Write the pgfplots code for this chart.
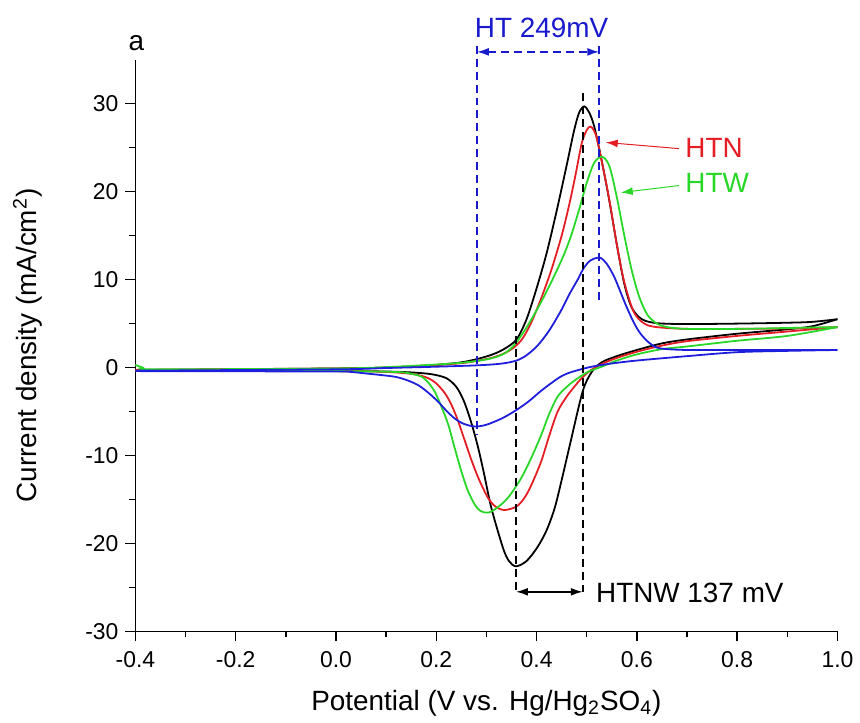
\documentclass[border=0pt]{standalone}
\usepackage{fontspec}
\setmainfont{Liberation Sans}
\usepackage{pgfplots}
\pgfplotsset{compat=1.18}
\usetikzlibrary{arrows.meta}
\definecolor{cvred}{RGB}{228,30,36}
\definecolor{cvgreen}{RGB}{40,215,40}
\definecolor{cvblue}{RGB}{30,30,220}
\definecolor{annblue}{RGB}{25,25,205}
\begin{document}
\begin{tikzpicture}
\begin{axis}[
  scale only axis, width=352.5pt, height=287pt,
  xmin=-0.4, xmax=1.0, ymin=-30, ymax=35,
  axis lines=left,
  axis line style={-, line width=0.8pt},
  xtick={-0.4,-0.2,0,0.2,0.4,0.6,0.8,1.0},
  ytick={-30,-20,-10,0,10,20,30},
  minor x tick num=1, minor y tick num=1,
  tick align=outside,
  major tick length=5pt, minor tick length=3pt,
  tick style={line width=0.7pt, black},
  x tick label style={/pgf/number format/.cd, fixed, fixed zerofill, precision=1, /tikz/.cd, yshift=-1.5pt},
  /pgf/number format/assume math mode=true,
  ticklabel style={font=\fontsize{11.5}{13}\selectfont},
  label style={font=\fontsize{14}{16}\selectfont},
  xlabel={Potential (V vs. Hg/Hg\textsubscript{2}SO\textsubscript{4})},
  ylabel={Current density (mA/cm\textsuperscript{2})},
  xlabel style={at={(axis description cs:0.5,-0.1254)}, anchor=center},
  ylabel style={at={(axis description cs:-0.1532,0.5)}, anchor=center},
  clip=false,
  every axis plot/.append style={line width=0.9pt, smooth, tension=0.5},
]
% black (HTNW): anodic scan, then return scan
\addplot[black] coordinates {
(-0.4,-0.3) (-0.2,-0.2) (0.0,-0.1) (0.1,0.0) (0.2,0.3) (0.25,0.6) (0.28,0.95)
(0.31,1.45) (0.335,2.1) (0.36,3.2) (0.38,5.5) (0.40,9.0) (0.42,13.0) (0.44,17.8)
(0.46,23.0) (0.475,27.0) (0.485,29.0) (0.495,29.7) (0.505,29.0) (0.515,27.4)
(0.53,23.5) (0.545,19.0) (0.56,14.0) (0.575,9.5) (0.59,6.8) (0.61,5.5) (0.64,5.05)
(0.7,4.95) (0.8,5.0) (0.9,5.1) (0.95,5.2) (1.0,5.5)
};
\addplot[black] coordinates {
(1.0,5.5) (0.95,4.7) (0.9,4.35) (0.8,3.85) (0.7,3.2) (0.65,2.75) (0.6,2.0) (0.56,1.3)
(0.53,0.6) (0.51,-0.5) (0.492,-2.7) (0.468,-8.4) (0.45,-12.8) (0.436,-16.0)
(0.42,-18.5) (0.402,-20.4) (0.38,-22.0) (0.359,-22.6) (0.345,-22.0) (0.333,-20.5)
(0.31,-16.0) (0.295,-12.0) (0.283,-9.0) (0.27,-6.3) (0.255,-3.8) (0.24,-2.2)
(0.22,-1.2) (0.19,-0.75) (0.15,-0.55) (0.1,-0.45) (0.0,-0.4) (-0.4,-0.4)
};
% red (HTN)
\addplot[cvred] coordinates {
(-0.4,-0.25) (0.0,-0.1) (0.1,0.0) (0.2,0.3) (0.25,0.5) (0.28,0.75) (0.31,1.1)
(0.335,1.6) (0.355,2.3) (0.372,3.3) (0.39,5.2) (0.41,8.0) (0.43,11.2) (0.45,15.0)
(0.465,18.5) (0.478,22.0) (0.49,25.5) (0.5,27.0) (0.508,27.4) (0.518,26.5)
(0.528,24.0) (0.545,19.1) (0.56,14.0) (0.575,9.7) (0.594,6.3) (0.615,5.0)
(0.64,4.6) (0.7,4.4) (0.8,4.4) (0.9,4.45) (1.0,4.6)
};
\addplot[cvred] coordinates {
(1.0,4.6) (0.9,4.1) (0.8,3.6) (0.7,3.0) (0.65,2.5) (0.6,1.8) (0.56,1.1) (0.53,0.4)
(0.508,-0.3) (0.49,-1.2) (0.475,-2.2) (0.46,-3.3) (0.442,-5.0) (0.425,-7.8)
(0.409,-10.7) (0.39,-13.3) (0.376,-14.8) (0.36,-15.8) (0.336,-16.2) (0.318,-15.8)
(0.303,-14.8) (0.285,-12.7) (0.27,-10.5) (0.255,-8.0) (0.243,-6.0) (0.23,-4.2)
(0.217,-2.9) (0.2,-1.8) (0.184,-1.2) (0.16,-0.8) (0.13,-0.6) (0.08,-0.45)
(0.0,-0.4) (-0.4,-0.4)
};
% green (HTW)
\addplot[cvgreen] coordinates {
(-0.4,0.3) (-0.385,0.0) (-0.36,-0.2) (0.0,-0.1) (0.1,0.05) (0.2,0.35) (0.25,0.55)
(0.28,0.75) (0.31,1.05) (0.336,1.6) (0.356,2.6) (0.376,4.2) (0.396,6.1) (0.416,8.2)
(0.435,10.4) (0.455,12.9) (0.47,15.2) (0.485,18.0) (0.5,21.0) (0.515,23.3)
(0.53,24.0) (0.54,23.5) (0.548,22.4) (0.561,19.1) (0.575,15.0) (0.59,11.0)
(0.605,8.0) (0.621,6.0) (0.64,5.0) (0.661,4.6) (0.7,4.4) (0.8,4.4) (0.9,4.5) (1.0,4.6)
};
\addplot[cvgreen] coordinates {
(1.0,4.6) (0.9,3.6) (0.8,3.05) (0.7,2.4) (0.65,2.1) (0.6,1.5) (0.56,0.8) (0.53,0.1)
(0.502,-0.5) (0.475,-1.5) (0.46,-2.2) (0.442,-3.3) (0.425,-5.3) (0.409,-7.7)
(0.39,-10.2) (0.369,-12.6) (0.343,-14.8) (0.32,-16.0) (0.303,-16.5) (0.288,-16.3)
(0.277,-15.6) (0.263,-14.0) (0.250,-11.8) (0.237,-9.2) (0.224,-6.5) (0.21,-4.4)
(0.197,-2.75) (0.184,-1.7) (0.171,-1.05) (0.15,-0.7) (0.12,-0.5) (0.0,-0.4)
(-0.4,-0.35)
};
% blue (HT)
\addplot[cvblue] coordinates {
(-0.4,-0.35) (0.0,-0.2) (0.1,-0.05) (0.2,0.1) (0.283,0.26) (0.33,0.45) (0.36,0.8)
(0.38,1.4) (0.402,2.5) (0.425,4.2) (0.449,6.5) (0.465,8.3) (0.482,10.0)
(0.495,11.4) (0.508,12.2) (0.526,12.5) (0.54,11.8) (0.555,10.3) (0.568,8.5)
(0.581,6.7) (0.595,5.0) (0.608,3.8) (0.625,2.8) (0.645,2.2) (0.7,2.0) (0.8,2.0)
(1.0,2.0)
};
\addplot[cvblue] coordinates {
(1.0,2.0) (0.9,1.9) (0.8,1.75) (0.7,1.3) (0.6,0.8) (0.548,0.45) (0.51,0.1) (0.482,-0.3)
(0.46,-0.7) (0.442,-1.25) (0.41,-2.6) (0.383,-3.9) (0.355,-5.0) (0.330,-5.8)
(0.30,-6.5) (0.277,-6.7) (0.255,-6.4) (0.237,-5.8) (0.22,-4.9) (0.204,-3.9)
(0.185,-2.9) (0.164,-2.0) (0.14,-1.4) (0.118,-1.05) (0.09,-0.85) (0.065,-0.7)
(0.03,-0.5) (0.0,-0.45) (-0.4,-0.4)
};
% annotations
\draw[annblue, dash pattern=on 4pt off 2.5pt, line width=0.8pt] (axis cs:0.281,36.6) -- (axis cs:0.281,-7.7);
\draw[annblue, dash pattern=on 4pt off 2.5pt, line width=0.8pt] (axis cs:0.525,36.6) -- (axis cs:0.525,7.2);
\draw[annblue, dash pattern=on 4pt off 2.5pt, line width=0.8pt, {Latex[length=6pt,width=4pt]}-{Latex[length=6pt,width=4pt]}] (axis cs:0.281,35.9) -- (axis cs:0.525,35.9);
\node[annblue, font=\fontsize{14}{16}\selectfont] at (axis cs:0.41,38.6) {HT 249mV};
\draw[black, dash pattern=on 4pt off 2.5pt, line width=0.8pt] (axis cs:0.492,31.2) -- (axis cs:0.492,-25.5);
\draw[black, dash pattern=on 4pt off 2.5pt, line width=0.8pt] (axis cs:0.359,9.5) -- (axis cs:0.359,-25.5);
\draw[black, line width=0.8pt, {Latex[length=6pt,width=4pt]}-{Latex[length=6pt,width=4pt]}] (axis cs:0.359,-25.5) -- (axis cs:0.492,-25.5);
\node[anchor=west, inner sep=0pt, font=\fontsize{14}{16}\selectfont] at (axis cs:0.518,-25.6) {HTNW 137 mV};
\draw[cvred, line width=0.5pt, -{Latex[length=6pt,width=4pt]}] (axis cs:0.684,24.9) -- (axis cs:0.538,25.6);
\node[cvred, anchor=west, inner sep=0pt, font=\fontsize{14}{16}\selectfont] at (axis cs:0.696,25.0) {HTN};
\draw[cvgreen, line width=0.5pt, -{Latex[length=6pt,width=4pt]}] (axis cs:0.684,20.7) -- (axis cs:0.568,19.9);
\node[cvgreen, anchor=west, inner sep=0pt, font=\fontsize{14}{16}\selectfont] at (axis cs:0.696,21.0) {HTW};
\node[font=\fontsize{14}{16}\selectfont] at (axis cs:-0.398,36.9) {a};
\path (axis cs:-0.670,-40.2) rectangle (axis cs:1.038,41.8);
\end{axis}
\end{tikzpicture}
\end{document}
